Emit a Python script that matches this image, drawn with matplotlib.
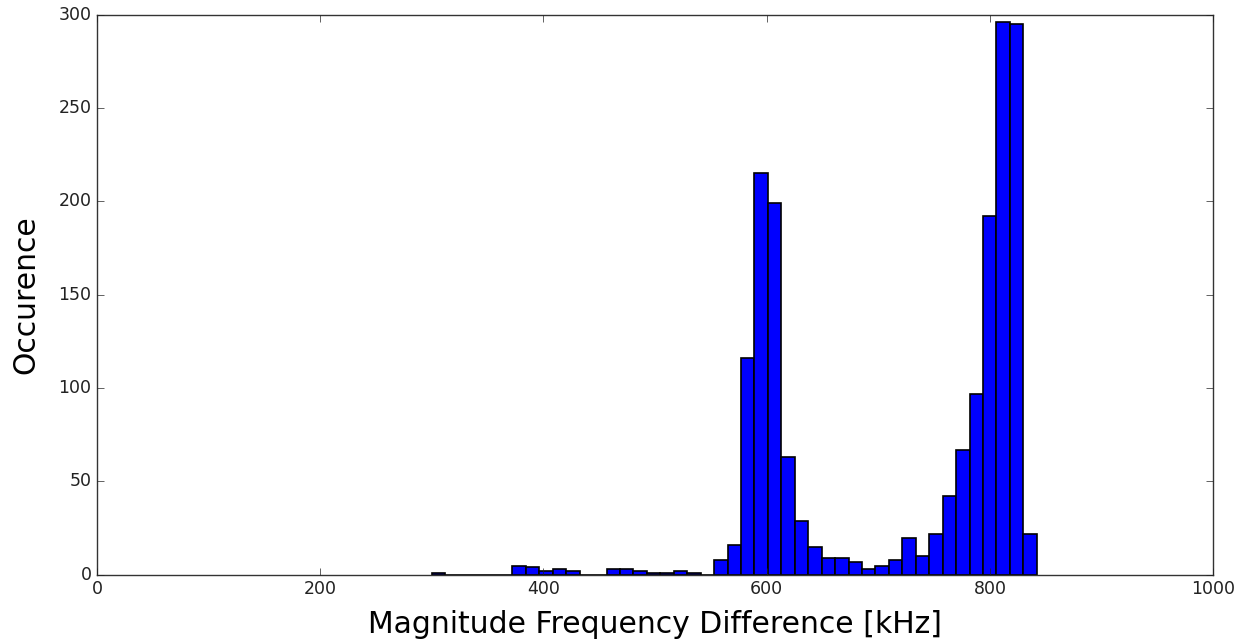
import matplotlib
matplotlib.use("Agg")
import matplotlib.pyplot as plt
import numpy as np

# histogram of frequency differences, 45 bins between the min and max value
f_min = 300.0   # kHz
f_max = 842.0   # kHz
n_bins = 45
counts = [1, 0, 0, 0, 0, 0, 5, 4, 2, 3,
          2, 0, 0, 3, 3, 2, 1, 1, 2, 1,
          0, 8, 16, 116, 215, 199, 63, 29, 15, 9,
          9, 7, 3, 5, 8, 20, 10, 22, 42, 67,
          97, 192, 296, 295, 22]

x_ticks = [0, 200, 400, 600, 800, 1000]
y_ticks = [0, 50, 100, 150, 200, 250, 300]

plt.style.use("classic")
plt.rcParams["font.family"] = ["DejaVu Sans"]

fig = plt.figure(figsize=(12.43, 6.43), dpi=100, facecolor="white")
ax = fig.add_axes([0.078, 0.106, 0.898, 0.871])

edges = np.linspace(f_min, f_max, n_bins + 1)
ax.hist(edges[:-1], bins=edges, weights=counts,
        facecolor="#0000ff", edgecolor="black", linewidth=1.2)

ax.set_xlim(0, 1000)
ax.set_ylim(0, 300)
ax.set_xticks(x_ticks)
ax.set_yticks(y_ticks)
ax.tick_params(labelsize=12.5, colors="#222222", direction="in", length=5)
ax.set_xlabel("Magnitude Frequency Difference [kHz]", fontsize=21.5, labelpad=8)
ax.set_ylabel("Occurence", fontsize=21.5, labelpad=13)
for s in ax.spines.values():
    s.set_color("#333333")

fig.savefig("out.png", dpi=100, facecolor="white")
